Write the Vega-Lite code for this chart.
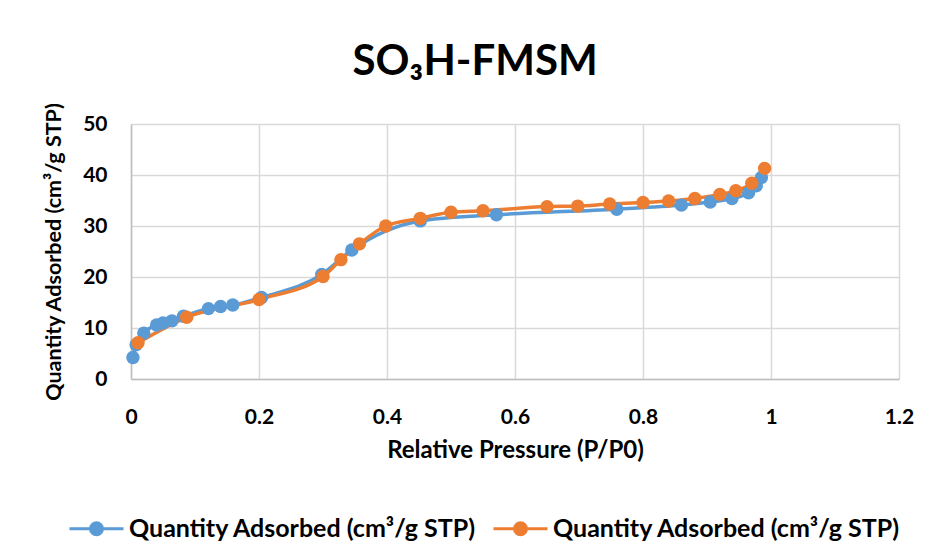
{
  "$schema": "https://vega.github.io/schema/vega-lite/v6.json",
  "width": 768,
  "height": 255,
  "autosize": {"type": "none"},
  "padding": {"left": 131, "top": 124, "right": 32, "bottom": 179},
  "background": "white",
  "title": {
    "text": "SO₃H-FMSM",
    "font": "Lato",
    "fontSize": 42,
    "fontWeight": "bold",
    "color": "#000000",
    "anchor": "middle",
    "dx": -40,
    "offset": 18
  },
  "config": {
    "font": "Lato",
    "view": {"stroke": null},
    "axis": {
      "labelFont": "Lato",
      "labelFontWeight": "bold",
      "labelFontSize": 21,
      "labelColor": "#000000",
      "titleFont": "Lato",
      "titleFontWeight": "bold",
      "titleColor": "#000000",
      "gridColor": "#d9d9d9",
      "gridWidth": 1.5,
      "domainColor": "#bfbfbf",
      "domainWidth": 1.5,
      "ticks": false
    }
  },
  "data": {
    "values": [
      {"series": "Adsorption", "p": 0.003, "q": 4.2},
      {"series": "Adsorption", "p": 0.008, "q": 6.7},
      {"series": "Adsorption", "p": 0.02, "q": 9.0},
      {"series": "Adsorption", "p": 0.04, "q": 10.6},
      {"series": "Adsorption", "p": 0.05, "q": 11.0},
      {"series": "Adsorption", "p": 0.064, "q": 11.4},
      {"series": "Adsorption", "p": 0.082, "q": 12.3},
      {"series": "Adsorption", "p": 0.121, "q": 13.8},
      {"series": "Adsorption", "p": 0.14, "q": 14.2},
      {"series": "Adsorption", "p": 0.159, "q": 14.5},
      {"series": "Adsorption", "p": 0.204, "q": 16.0},
      {"series": "Adsorption", "p": 0.298, "q": 20.5},
      {"series": "Adsorption", "p": 0.345, "q": 25.3},
      {"series": "Adsorption", "p": 0.452, "q": 31.0},
      {"series": "Adsorption", "p": 0.571, "q": 32.2},
      {"series": "Adsorption", "p": 0.759, "q": 33.3},
      {"series": "Adsorption", "p": 0.86, "q": 34.1},
      {"series": "Adsorption", "p": 0.905, "q": 34.7},
      {"series": "Adsorption", "p": 0.939, "q": 35.4},
      {"series": "Adsorption", "p": 0.965, "q": 36.5},
      {"series": "Adsorption", "p": 0.977, "q": 37.9},
      {"series": "Adsorption", "p": 0.985, "q": 39.5},
      {"series": "Desorption", "p": 0.011, "q": 7.1},
      {"series": "Desorption", "p": 0.087, "q": 12.1},
      {"series": "Desorption", "p": 0.2, "q": 15.6},
      {"series": "Desorption", "p": 0.3, "q": 20.1},
      {"series": "Desorption", "p": 0.328, "q": 23.4},
      {"series": "Desorption", "p": 0.357, "q": 26.5},
      {"series": "Desorption", "p": 0.398, "q": 30.0},
      {"series": "Desorption", "p": 0.452, "q": 31.5},
      {"series": "Desorption", "p": 0.5, "q": 32.7},
      {"series": "Desorption", "p": 0.55, "q": 33.0},
      {"series": "Desorption", "p": 0.65, "q": 33.8},
      {"series": "Desorption", "p": 0.698, "q": 33.9},
      {"series": "Desorption", "p": 0.748, "q": 34.3},
      {"series": "Desorption", "p": 0.8, "q": 34.6},
      {"series": "Desorption", "p": 0.84, "q": 34.9},
      {"series": "Desorption", "p": 0.881, "q": 35.4},
      {"series": "Desorption", "p": 0.92, "q": 36.2},
      {"series": "Desorption", "p": 0.945, "q": 36.9},
      {"series": "Desorption", "p": 0.97, "q": 38.4},
      {"series": "Desorption", "p": 0.99, "q": 41.3}
    ]
  },
  "encoding": {
    "x": {
      "field": "p",
      "type": "quantitative",
      "scale": {"domain": [0, 1.2], "nice": false},
      "axis": {
        "values": [0, 0.2, 0.4, 0.6, 0.8, 1, 1.2],
        "format": "~g",
        "title": "Relative Pressure (P/P0)",
        "titleFontSize": 24,
        "labelPadding": 27,
        "titlePadding": 11,
        "labelFlush": false
      }
    },
    "y": {
      "field": "q",
      "type": "quantitative",
      "scale": {"domain": [0, 50], "nice": false},
      "axis": {
        "values": [0, 10, 20, 30, 40, 50],
        "title": "Quantity Adsorbed (cm³/g STP)",
        "titleFontSize": 21.5,
        "labelPadding": 24,
        "titlePadding": 17,
        "labelFlush": false
      }
    },
    "color": {
      "field": "series",
      "type": "nominal",
      "scale": {"domain": ["Adsorption", "Desorption"], "range": ["#5b9bd5", "#ed7d31"]},
      "legend": {
        "orient": "none",
        "direction": "horizontal",
        "legendX": -63,
        "legendY": 376,
        "title": null,
        "labelExpr": "'Quantity Adsorbed (cm³/g STP)'",
        "labelFont": "Lato",
        "labelFontWeight": "bold",
        "labelFontSize": 25,
        "labelColor": "#000000",
        "labelLimit": 450,
        "symbolType": "M-1,0H1M-0.22,0A0.22,0.22,0,1,1,0.22,0A0.22,0.22,0,1,1,-0.22,0Z",
        "symbolSize": 2916,
        "symbolStrokeWidth": 3,
        "symbolOpacity": 1,
        "columnPadding": 10,
        "labelOffset": 4,
        "encode": {
          "symbols": {"update": {"stroke": {"scale": "color", "field": "value"}, "fill": {"scale": "color", "field": "value"}, "opacity": {"value": 1}}}
        }
      }
    }
  },
  "layer": [
    {"mark": {"type": "line", "interpolate": "monotone", "strokeWidth": 3.5}},
    {"mark": {"type": "circle", "size": 180, "opacity": 1}}
  ]
}
